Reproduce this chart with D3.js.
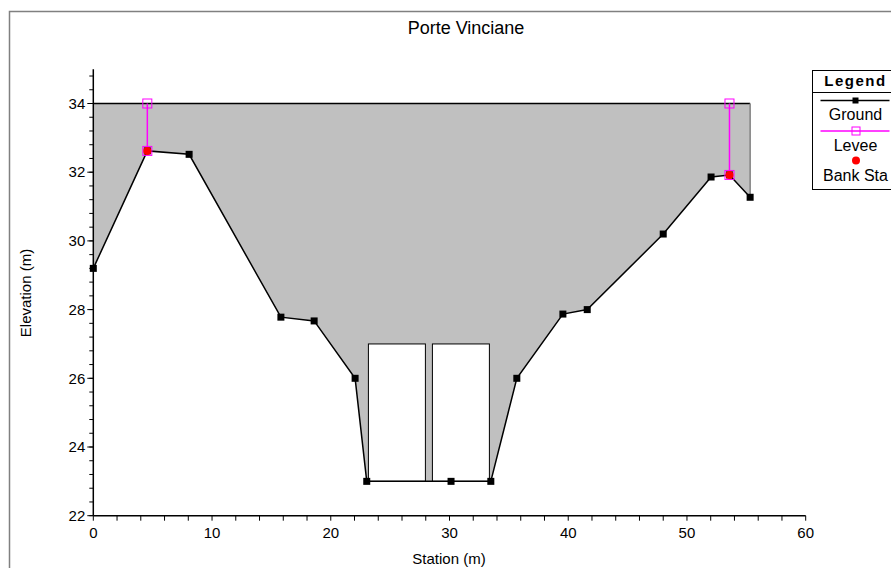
<!DOCTYPE html>
<html>
<head>
<meta charset="utf-8">
<script src="https://cdn.jsdelivr.net/npm/d3@7"></script>
<style>
  body { margin: 0; background: #fff; }
  text { font-family: Arial, "Liberation Sans", sans-serif; fill: #000; }
</style>
</head>
<body>
<svg id="chart" width="891" height="568"></svg>
<script>
// ground profile
const groundStation = [0, 4.55, 8.07, 15.8, 18.6, 22.05, 23.03, 30.13, 33.48, 35.67, 39.55, 41.6, 48.0, 52.03, 53.58, 55.32];
const groundElev = [29.2, 32.62, 32.52, 27.78, 27.67, 26.0, 23.0, 23.0, 23.0, 26.0, 27.87, 28.0, 30.2, 31.86, 31.92, 31.27];

// levees (top) and bank stations
const leveeStation = [4.55, 53.58];
const leveeElev = [34, 34];
const bankStation = [4.55, 53.58];
const bankElev = [32.62, 31.92];

// bridge deck and gate openings
const deckElev = 34;
const gateLeft = [23.17, 28.56];
const gateRight = [27.97, 33.36];
const gateInvert = 23;
const gateTop = 27;

const xMajor = [0, 10, 20, 30, 40, 50, 60];
const yMajor = [22, 24, 26, 28, 30, 32, 34];

const svg = d3.select("#chart");

const x = d3.scaleLinear().domain([0, 60]).range([93.3, 805.7]);
const y = d3.scaleLinear().domain([22, 35]).range([515.7, 69.15]);

const ground = groundStation.map((s, i) => [s, groundElev[i]]);

// frame
svg.append("rect")
  .attr("x", 9.5).attr("y", 11.5)
  .attr("width", 900).attr("height", 600)
  .attr("fill", "none").attr("stroke", "#808080").attr("stroke-width", 1.5);

// title
svg.append("text")
  .attr("x", 466).attr("y", 34)
  .attr("text-anchor", "middle")
  .style("font-size", "18px")
  .text("Porte Vinciane");

// deck fill
const last = groundStation.length - 1;
const deckPoly = [[0, deckElev], [groundStation[last], deckElev]]
  .concat(ground.slice().reverse());
svg.append("path")
  .attr("d", d3.line().x(d => x(d[0])).y(d => y(d[1]))(deckPoly) + "Z")
  .attr("fill", "#c0c0c0").attr("stroke", "none");

svg.append("line")
  .attr("x1", x(0)).attr("x2", x(groundStation[last]))
  .attr("y1", y(deckElev)).attr("y2", y(deckElev))
  .attr("stroke", "#000").attr("stroke-width", 1.5);
svg.append("line")
  .attr("x1", x(groundStation[last])).attr("x2", x(groundStation[last]))
  .attr("y1", y(deckElev)).attr("y2", y(groundElev[last]))
  .attr("stroke", "#808080").attr("stroke-width", 1.5);

// gate openings
svg.selectAll(".gate").data(gateLeft).enter().append("rect")
  .attr("x", (d) => x(d))
  .attr("y", y(gateTop))
  .attr("width", (d, i) => x(gateRight[i]) - x(d))
  .attr("height", y(gateInvert) - y(gateTop))
  .attr("fill", "#fff").attr("stroke", "#000").attr("stroke-width", 1);

// axes
const yAxis = svg.append("g").attr("transform", "translate(" + x(0) + ",0)");
yAxis.append("line").attr("y1", y(22)).attr("y2", y(35)).attr("stroke", "#000").attr("stroke-width", 1.5);
const yMinor = d3.range(0, 33).map(i => 22 + i * 0.4);
yAxis.selectAll(".ymin").data(yMinor).enter().append("line")
  .attr("x1", -4).attr("x2", 0)
  .attr("y1", d => y(d)).attr("y2", d => y(d))
  .attr("stroke", "#000");
yAxis.selectAll(".ymaj").data(yMajor).enter().append("line")
  .attr("x1", -6).attr("x2", 0)
  .attr("y1", d => y(d)).attr("y2", d => y(d))
  .attr("stroke", "#000");
yAxis.selectAll(".ylab").data(yMajor).enter().append("text")
  .attr("x", -8).attr("y", d => y(d)).attr("dy", "0.35em")
  .attr("text-anchor", "end").style("font-size", "15px")
  .text(d => d);

const xAxis = svg.append("g").attr("transform", "translate(0," + y(22) + ")");
xAxis.append("line").attr("x1", x(0)).attr("x2", x(60)).attr("stroke", "#000").attr("stroke-width", 1.5);
const xMinor = d3.range(0, 31).map(i => i * 2);
xAxis.selectAll(".xmin").data(xMinor).enter().append("line")
  .attr("x1", d => x(d)).attr("x2", d => x(d))
  .attr("y1", 0).attr("y2", 5)
  .attr("stroke", "#000");
xAxis.selectAll(".xlab").data(xMajor).enter().append("text")
  .attr("x", d => x(d)).attr("y", 22)
  .attr("text-anchor", "middle").style("font-size", "15px")
  .text(d => d);

svg.append("text")
  .attr("transform", "translate(31,293) rotate(-90)")
  .attr("text-anchor", "middle").style("font-size", "15px")
  .text("Elevation (m)");
svg.append("text")
  .attr("x", 449).attr("y", 564)
  .attr("text-anchor", "middle").style("font-size", "15px")
  .text("Station (m)");

// ground line
svg.append("path")
  .attr("d", d3.line().x(d => x(d[0])).y(d => y(d[1]))(ground))
  .attr("fill", "none").attr("stroke", "#000").attr("stroke-width", 1.5);
svg.selectAll(".gpt").data(ground).enter().append("rect")
  .attr("x", d => x(d[0]) - 3.5).attr("y", d => y(d[1]) - 3.5)
  .attr("width", 7).attr("height", 7).attr("fill", "#000");

// levees
leveeStation.forEach((s, i) => {
  const base = ground.find(g => g[0] === s);
  svg.append("line")
    .attr("x1", x(s)).attr("x2", x(s))
    .attr("y1", y(leveeElev[i])).attr("y2", y(base[1]))
    .attr("stroke", "#ff00ff").attr("stroke-width", 1.5);
  [leveeElev[i], base[1]].forEach(e => {
    svg.append("rect")
      .attr("x", x(s) - 4.5).attr("y", y(e) - 4.5)
      .attr("width", 9).attr("height", 9)
      .attr("fill", "none").attr("stroke", "#ff00ff").attr("stroke-width", 1);
  });
});

// bank stations
svg.selectAll(".bank").data(bankStation).enter().append("circle")
  .attr("cx", d => x(d)).attr("cy", (d, i) => y(bankElev[i]))
  .attr("r", 4).attr("fill", "#ff0000");

// legend
const lg = svg.append("g").attr("transform", "translate(812.5,70.5)");
lg.append("rect").attr("width", 90).attr("height", 119)
  .attr("fill", "#fff").attr("stroke", "#000").attr("stroke-width", 1);
lg.append("line").attr("x1", 0).attr("x2", 90).attr("y1", 22).attr("y2", 22)
  .attr("stroke", "#000");
lg.append("text").attr("x", 43).attr("y", 15).attr("text-anchor", "middle")
  .style("font-size", "15px").style("font-weight", "bold").style("letter-spacing", "1.5px")
  .text("Legend");
lg.append("line").attr("x1", 8).attr("x2", 77).attr("y1", 30).attr("y2", 30)
  .attr("stroke", "#000").attr("stroke-width", 1.5);
lg.append("rect").attr("x", 40).attr("y", 27).attr("width", 6).attr("height", 6).attr("fill", "#000");
lg.append("text").attr("x", 43).attr("y", 49).attr("text-anchor", "middle")
  .style("font-size", "16px").text("Ground");
lg.append("line").attr("x1", 8).attr("x2", 77).attr("y1", 60.5).attr("y2", 60.5)
  .attr("stroke", "#ff00ff").attr("stroke-width", 1.5);
lg.append("rect").attr("x", 39.5).attr("y", 56.5).attr("width", 8).attr("height", 8)
  .attr("fill", "none").attr("stroke", "#ff00ff");
lg.append("text").attr("x", 43).attr("y", 80).attr("text-anchor", "middle")
  .style("font-size", "16px").text("Levee");
lg.append("circle").attr("cx", 43.5).attr("cy", 90).attr("r", 4).attr("fill", "#ff0000");
lg.append("text").attr("x", 43).attr("y", 110).attr("text-anchor", "middle")
  .style("font-size", "16px").text("Bank Sta");
</script>
</body>
</html>
